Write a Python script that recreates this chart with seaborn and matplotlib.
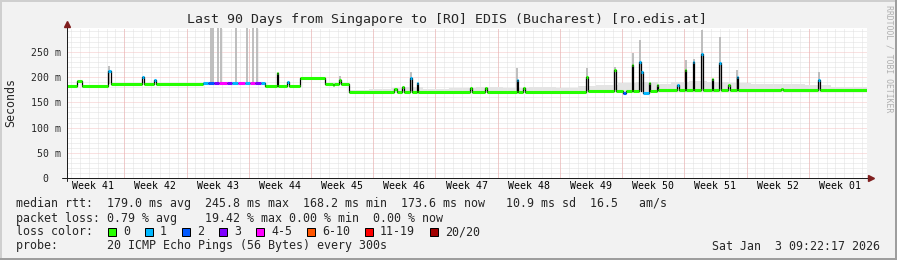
import matplotlib
matplotlib.use("Agg")
import matplotlib.pyplot as plt
import seaborn as sns
import pandas as pd
import numpy as np
from matplotlib.patches import Rectangle

# ------------------------------------------------------------------ data
TITLE = "Last 90 Days from Singapore to [RO] EDIS (Bucharest) [ro.edis.at]"
WEEK_LABELS = ["Week 41", "Week 42", "Week 43", "Week 44", "Week 45", "Week 46",
               "Week 47", "Week 48", "Week 49", "Week 50", "Week 51", "Week 52",
               "Week 01"]
Y_TICKS = [0, 50, 100, 150, 200, 250]
Y_TICK_LABELS = ["0  ", "50 m", "100 m", "150 m", "200 m", "250 m"]
SPAN_DAYS = 90          # shown period
FIRST_WEEK_START = 6.45 # day (from left edge) of first week boundary

LOSS_LABELS = ["0", "1", "2", "3", "4-5", "6-10", "11-19", "20/20"]
LOSS_COLORS = ["#26ff00", "#00b8ff", "#0059ff", "#7e00ff", "#ff00ff",
               "#ff5500", "#ff0000", "#a10000"]

# median rtt steps: start day, value (ms), loss class index
median_day = [0.00, 1.12, 1.69, 4.61, 5.00, 8.49, 8.66, 9.79, 9.96,
              15.30, 15.90, 16.50, 17.10, 18.00, 18.60, 19.20, 20.00, 20.60, 21.20, 21.80,
              22.27, 23.57, 23.74, 24.75, 24.92, 26.21, 29.02, 29.92, 30.09, 30.60, 30.77,
              31.72, 36.79, 37.12, 37.74, 37.91, 38.59, 38.76, 39.32, 39.49,
              45.34, 45.56, 47.02, 47.25, 50.57, 50.74, 51.30, 51.53,
              58.44, 58.61, 61.59, 61.76, 62.55, 62.89, 63.56, 63.73,
              64.35, 64.52, 64.63, 64.80, 65.47, 65.64, 66.32, 66.49,
              68.62, 68.85, 69.52, 69.69, 70.42, 70.59, 71.38, 71.55,
              72.51, 72.68, 73.35, 73.52, 74.36, 74.58, 75.32, 75.49,
              80.32, 80.55, 84.49, 84.66, 90.00]
median_ms = [183, 193, 183, 212, 186, 200, 186, 194, 186,
             189, 189, 189, 189, 189, 189, 189, 189, 189, 189, 189,
             183, 207, 183, 191, 183, 199, 187, 184, 187, 195, 186,
             170, 176, 170, 181, 170, 198, 170, 189, 171,
             178, 171, 179, 171, 195, 171, 178, 171,
             201, 172, 214, 173, 168, 173, 224, 173,
             230, 172, 210, 168, 188, 173, 184, 174,
             184, 174, 214, 174, 230, 174, 246, 174,
             197, 174, 227, 174, 184, 174, 201, 175,
             177, 174, 194, 174, 174]
median_loss = [0, 0, 0, 1, 0, 1, 0, 1, 0,
               1, 2, 3, 4, 3, 1, 4, 1, 4, 3, 1,
               0, 0, 0, 1, 0, 0, 0, 0, 0, 0, 0,
               0, 0, 0, 0, 0, 1, 0, 1, 0,
               0, 0, 0, 0, 1, 0, 0, 0,
               0, 0, 0, 0, 2, 0, 0, 0,
               1, 0, 1, 1, 0, 0, 0, 0,
               1, 0, 0, 0, 1, 0, 1, 0,
               0, 0, 1, 0, 0, 0, 1, 0,
               0, 0, 1, 0, 0]

# smoke (spread of the 20 pings) for individual intervals
smoke_day = [4.75, 16.17, 16.39, 17.02, 17.29, 19.01, 20.22, 20.89, 21.34,
             30.68, 38.67, 50.65, 58.52, 61.67, 63.64, 64.43, 69.60, 70.50,
             71.46, 73.43, 75.40, 84.57]
smoke_low = [186, 190, 190, 190, 190, 190, 190, 190, 190,
             187, 172, 173, 173, 174, 175, 175, 175, 175,
             175, 175, 176, 175]
smoke_high = [222, 300, 300, 300, 300, 300, 300, 300, 300,
              203, 210, 217, 217, 220, 248, 273, 234, 236,
              293, 280, 214, 210]

# light haze of smoke above the median in the later weeks
haze_day = [31.7, 34.0, 36.5, 38.0, 40.0, 43.0, 46.0, 49.0, 52.0, 55.0, 57.5,
            59.5, 62.0, 64.0, 66.5, 68.0, 70.0, 72.0, 74.5, 77.0, 80.0, 83.0,
            86.0, 90.0]
haze_high = [175, 176, 178, 180, 176, 178, 180, 178, 180, 178, 182,
             185, 188, 190, 186, 190, 192, 190, 188, 186, 187, 184,
             181, 181]

STATS_RTT = "median rtt:  179.0 ms avg  245.8 ms max  168.2 ms min  173.6 ms now   10.9 ms sd  16.5   am/s"
STATS_LOSS = "packet loss: 0.79 % avg    19.42 % max 0.00 % min  0.00 % now"
LOSS_HEAD = "loss color:"
PROBE = "probe:       20 ICMP Echo Pings (56 Bytes) every 300s"
STAMP = "Sat Jan  3 09:22:17 2026"
WATERMARK = "RRDTOOL / TOBI OETIKER"

# ------------------------------------------------------------------ style
W, H = 897, 260
sns.set_style("white")
plt.rcParams["font.family"] = ["DejaVu Sans Mono"]

BACK = "#f2f2f2"
GRID = "#e0e0e0"
MGRID = "#f5c4c4"
AXIS = "#1f1f1f"
ARROW = "#801f1f"
DOT = (0, (1.0, 1.0))
PX = 72.0 / 100.0  # one pixel in points

fig = plt.figure(figsize=(W / 100, H / 100), dpi=100, facecolor=BACK)


def fx(x):
    return x / W


def fy(y):
    return 1 - y / H


# frame shades
fig.add_artist(Rectangle((0, fy(2)), 1, 2 / H, transform=fig.transFigure, color="#cfcfcf", lw=0))
fig.add_artist(Rectangle((0, 0), 2 / W, 1, transform=fig.transFigure, color="#cfcfcf", lw=0))
fig.add_artist(Rectangle((0, 0), 1, 2 / H, transform=fig.transFigure, color="#9e9e9e", lw=0))
fig.add_artist(Rectangle((fx(W - 2), 0), 2 / W, 1, transform=fig.transFigure, color="#9e9e9e", lw=0))

Y0, YTOP = 178.3, 28.0
YMAX = (Y0 - YTOP) / 0.5064
ax = fig.add_axes([fx(67), fy(Y0), 800 / W, (Y0 - YTOP) / H])
ax.set_facecolor("white")
ax.set_xlim(0, SPAN_DAYS)
ax.set_ylim(0, YMAX)
for s in ax.spines.values():
    s.set_visible(False)

# grid
days = np.arange(FIRST_WEEK_START - 6, SPAN_DAYS, 1.0)
bounds = np.arange(FIRST_WEEK_START, SPAN_DAYS, 7.0)
centers = FIRST_WEEK_START - 3.5 + 7.0 * np.arange(len(WEEK_LABELS))
ax.set_xticks(centers, WEEK_LABELS)
ax.set_xticks(days, minor=True)
ax.set_yticks(Y_TICKS, Y_TICK_LABELS)
ax.set_yticks(np.arange(0, YMAX, 10), minor=True)
ax.grid(False)
ax.grid(which="minor", axis="both", color=GRID, lw=PX, ls=DOT)
ax.grid(which="major", axis="y", color=MGRID, lw=PX, ls=DOT)
ax.vlines(bounds, 0, YMAX, colors="#f0a8a8", lw=PX, linestyles=DOT, zorder=0.9)
ax.set_axisbelow(True)

ax.tick_params(axis="x", which="both", length=0, labelsize=7.1, pad=2.3, colors="black")
ax.tick_params(axis="y", which="major", length=3 * PX, width=PX, color=AXIS,
               labelsize=7.1, pad=2.2, direction="out")
ax.tick_params(axis="y", which="minor", length=0)

# haze and smoke
ax.fill_between(haze_day, 171, haze_high, step="post", color="#e4e4e4", lw=0, zorder=1)
ax.vlines(smoke_day, smoke_low, smoke_high, colors="#b9b9b9", lw=1.3, zorder=1.5)

# median rtt line
df = pd.DataFrame({"day": median_day, "ms": median_ms})
sns.lineplot(data=df, x="day", y="ms", ax=ax, color="black", lw=0.9,
             drawstyle="steps-post", estimator=None, sort=False, legend=False, zorder=2)
seg_colors = [LOSS_COLORS[l] for l in median_loss[:-1]]
ax.hlines(median_ms[:-1], median_day[:-1], median_day[1:], colors=seg_colors,
          lw=2.2, zorder=3)
ax.set_xlabel("")
ax.set_ylabel("")

# axes lines and arrows
ax.plot([-0.56, 90.3], [0, 0], color=AXIS, lw=PX, clip_on=False, zorder=4)
ax.plot([0, 0], [-5, 300], color=AXIS, lw=PX, clip_on=False, zorder=4)
ax.plot([90.45], [0], marker=">", ms=4.5, color=ARROW, clip_on=False, zorder=5)
ax.plot([0], [305], marker="^", ms=4.5, color=ARROW, clip_on=False, zorder=5)

# texts
fig.text(fx(446.5), fy(19.3), TITLE, ha="center", va="center", fontsize=9.5)
fig.text(fx(10.7), fy(103), "Seconds", rotation=90, ha="center", va="center", fontsize=8.4)
fig.text(fx(889), fy(59), WATERMARK, rotation=270, ha="center", va="center",
         fontsize=5.9, color="#b0b0b0")

LEG = 8.4
CW = 7.01
fig.text(fx(16), fy(204), STATS_RTT, ha="left", va="center", fontsize=LEG)
fig.text(fx(16), fy(218.3), STATS_LOSS, ha="left", va="center", fontsize=LEG)
fig.text(fx(16), fy(231.7), LOSS_HEAD, ha="left", va="center", fontsize=LEG)
fig.text(fx(16), fy(246), PROBE, ha="left", va="center", fontsize=LEG)
fig.text(fx(880), fy(246), STAMP, ha="right", va="center", fontsize=LEG)

bx = 108.0
for lab, col in zip(LOSS_LABELS, LOSS_COLORS):
    fig.add_artist(Rectangle((fx(bx), fy(235.5)), 8 / W, 8 / H, transform=fig.transFigure,
                             facecolor=col, edgecolor="black", lw=PX))
    tx = bx + 15
    fig.text(fx(tx), fy(231.7), lab, ha="left", va="center", fontsize=LEG)
    bx = tx + len(lab) * CW + 15

fig.savefig("out.png", dpi=100, facecolor=BACK)
